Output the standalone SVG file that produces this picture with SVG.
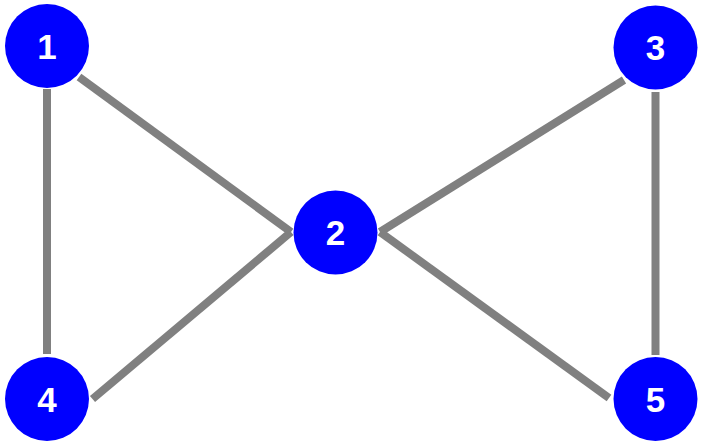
<svg xmlns="http://www.w3.org/2000/svg" width="702" height="446" viewBox="0 0 702 446">
<style>
.edge{stroke:#808080;stroke-width:8;fill:none;stroke-linecap:butt}
.node circle{fill:#0000ff}
.node text{fill:#ffffff;font-family:"Liberation Sans",Arial,sans-serif;font-weight:bold;font-size:35px;text-anchor:middle}
</style>
<rect width="702" height="446" fill="#ffffff"/>
<g id="edges">
<line class="edge" x1="47" y1="89" x2="47" y2="354"/>
<line class="edge" x1="79" y1="77" x2="291" y2="232"/>
<line class="edge" x1="92.5" y1="399" x2="291" y2="232"/>
<line class="edge" x1="624" y1="80" x2="380" y2="232"/>
<line class="edge" x1="609" y1="398" x2="380" y2="232"/>
<line class="edge" x1="655.5" y1="92" x2="655.5" y2="355"/>
</g>
<g id="node1" class="node"><circle cx="47" cy="46" r="42"/><text x="47" y="59">1</text></g>
<g id="node2" class="node"><circle cx="335.5" cy="232.5" r="42"/><text x="335.5" y="245">2</text></g>
<g id="node3" class="node"><circle cx="655.5" cy="47.5" r="42"/><text x="655.5" y="60">3</text></g>
<g id="node4" class="node"><circle cx="47" cy="399" r="42"/><text x="47" y="412">4</text></g>
<g id="node5" class="node"><circle cx="655.5" cy="399" r="42"/><text x="655.5" y="412">5</text></g>
</svg>
